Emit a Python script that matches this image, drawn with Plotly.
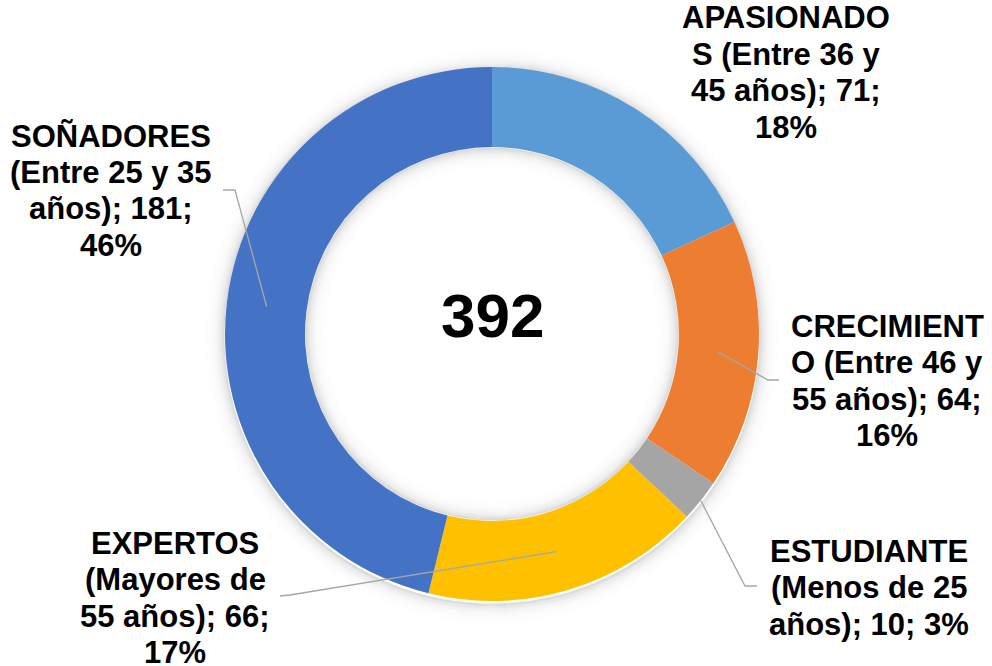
import math
import plotly.graph_objects as go

# ---------------- data ----------------
categories = [
    "APASIONADOS (Entre 36 y 45 años)",
    "CRECIMIENTO (Entre 46 y 55 años)",
    "ESTUDIANTE (Menos de 25 años)",
    "EXPERTOS (Mayores de 55 años)",
    "SOÑADORES (Entre 25 y 35 años)",
]
values = [71, 64, 10, 66, 181]
colors = ["#5B9BD5", "#ED7D31", "#A5A5A5", "#FFC000", "#4472C4"]

# ---------------- layout / style ----------------
W, H = 992, 666
CX, CY = 492, 334          # donut centre (px)
R_OUT = 267                # outer radius (px)
HOLE = 0.70
R_IN = R_OUT * HOLE

# label wrapping (chars per line) and positions (px: centre x, first line centre y)
wrap_lengths = [[10, 13, 13], [10, 13, 13], [10, 12], [8, 11, 13], [9, 14, 11]]
label_pos = [(786, 18), (887, 326), (869, 551), (175, 543), (111, 136)]
LINE_STEP = 36.5
FONT_SIZE = 31
FONT = "Liberation Sans, Arial, sans-serif"

# leader lines: anchor radius fraction (0=inner,1=outer), elbow point, end point (px)
leaders = [
    None,
    (0.5, (768, 380), (779, 380)),
    (1.0, (745, 586), (757, 586)),
    (0.5, (290, 595), (280, 596)),
    (0.5, (235, 190), (223, 190)),
]


def px(x):
    return x / W


def py(y):
    return 1 - y / H


def wrap(text, lengths):
    out, rest = [], text
    for n in lengths:
        rest = rest.lstrip()
        out.append(rest[:n])
        rest = rest[n:]
    out.append(rest.lstrip())
    return out


total = sum(values)
pcts = [round(v / total * 100) for v in values]

fig = go.Figure(
    go.Pie(
        labels=categories,
        values=values,
        hole=HOLE,
        sort=False,
        direction="clockwise",
        rotation=0,
        marker=dict(colors=colors, line=dict(width=0)),
        textinfo="none",
        hoverinfo="none",
        showlegend=False,
        domain=dict(x=[px(CX - R_OUT), px(CX + R_OUT)], y=[py(CY + R_OUT), py(CY - R_OUT)]),
    )
)

shapes = []
# soft shadow outside the ring
for k in range(0, 22):
    r = R_OUT + 1 + k
    a = 0.13 * math.exp(-k / 6.0)
    shapes.append(dict(type="circle", xref="paper", yref="paper", layer="below",
                       x0=px(CX - r), x1=px(CX + r), y0=py(CY + r + 2), y1=py(CY - r + 2),
                       line=dict(color=f"rgba(0,0,0,{a:.4f})", width=1.2)))
# soft shadow inside the hole
for k in range(0, 22):
    r = R_IN - 1 - k
    a = 0.13 * math.exp(-k / 6.0)
    shapes.append(dict(type="circle", xref="paper", yref="paper", layer="above",
                       x0=px(CX - r), x1=px(CX + r), y0=py(CY + r), y1=py(CY - r),
                       line=dict(color=f"rgba(0,0,0,{a:.4f})", width=1.2)))

# leader lines, anchored at slice mid-angles
cum = 0
for i, v in enumerate(values):
    mid = (cum + v / 2) / total * 2 * math.pi
    cum += v
    if leaders[i] is None:
        continue
    frac, elbow, end = leaders[i]
    r = R_IN + frac * (R_OUT - R_IN)
    ax = CX + r * math.sin(mid)
    ay = CY - r * math.cos(mid)
    path = (f"M {px(ax)} {py(ay)} L {px(elbow[0])} {py(elbow[1])} "
            f"L {px(end[0])} {py(end[1])}")
    shapes.append(dict(type="path", xref="paper", yref="paper", path=path,
                       line=dict(color="#A6A6A6", width=1.3), layer="above"))

annotations = []
for i, cat in enumerate(categories):
    text = f"{cat}; {values[i]}; {pcts[i]}%"
    lines = wrap(text, wrap_lengths[i])
    x0, y0 = label_pos[i]
    for j, line in enumerate(lines):
        annotations.append(dict(
            x=px(x0), y=py(y0 + j * LINE_STEP), xref="paper", yref="paper",
            text=f"<b>{line}</b>", showarrow=False, xanchor="center", yanchor="middle",
            font=dict(family=FONT, size=FONT_SIZE, color="#000000"),
        ))

# total in the centre
annotations.append(dict(
    x=px(CX), y=py(CY - 19), xref="paper", yref="paper",
    text=f"<b>{total}</b>", showarrow=False, xanchor="center", yanchor="middle",
    font=dict(family=FONT, size=62, color="#000000"),
))

fig.update_layout(
    width=W, height=H,
    margin=dict(l=0, r=0, t=0, b=0),
    paper_bgcolor="white", plot_bgcolor="white",
    shapes=shapes, annotations=annotations,
    showlegend=False,
)

fig.write_html("out.html", config={"displayModeBar": False},
               post_script="document.body.style.margin='0px';")
